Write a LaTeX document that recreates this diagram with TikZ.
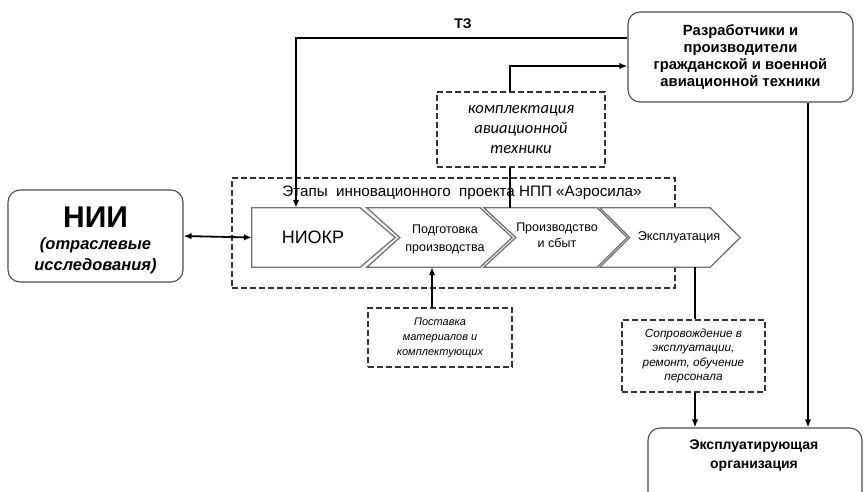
\documentclass[tikz,border=0pt]{standalone}
\usepackage{fontspec}
\setmainfont{Liberation Sans}
\newfontfamily\carlito{Carlito}
\usetikzlibrary{arrows.meta}

\begin{document}
\begin{tikzpicture}[x=1pt,y=-1pt,
  conn/.style={line width=1.8pt, black},
  arr/.style={conn, -{Latex[length=8pt,width=6.5pt]}},
  darr/.style={conn, {Latex[length=8pt,width=6.5pt]}-{Latex[length=8pt,width=6.5pt]}},
  rbox/.style={draw=black!70, line width=1.1pt, rounded corners=12pt, fill=white, inner sep=0pt},
  dbox/.style={draw=black!80, line width=1.1pt, dash pattern=on 6pt off 3pt, fill=white, inner sep=0pt},
  chevbody/.style={inner sep=0pt, minimum height=59pt},
  chev/.style={draw=black!55, line width=1.3pt, fill=white, line join=miter},
  lbl/.style={inner sep=0pt, align=center},
]
\clip (0,0) rectangle (864,491);

% project stages frame
\node[draw=black!80, line width=1.1pt, dash pattern=on 6pt off 3pt, inner sep=0pt,
      minimum width=443pt, minimum height=110pt] (frame) at (453.5,233) {};

% chevron bodies (anchors for the outlines and connectors)
\node[chevbody, minimum width=108pt] (ch1) at (306,237.5) {};
\node[chevbody, minimum width=113pt] (ch2) at (423.5,237.5) {};
\node[chevbody, minimum width=113pt] (ch3) at (540.5,237.5) {};
\node[chevbody, minimum width=110pt] (ch4) at (655,237.5) {};

\draw[chev] (ch1.north west) -- (ch1.north east) -- ([xshift=35pt]ch1.east)
  -- (ch1.south east) -- (ch1.south west) -- cycle;
\draw[chev] (ch2.north west) -- (ch2.north east) -- ([xshift=32pt]ch2.east)
  -- (ch2.south east) -- (ch2.south west) -- ([xshift=33pt]ch2.west) -- cycle;
\draw[chev] (ch3.north west) -- (ch3.north east) -- ([xshift=30pt]ch3.east)
  -- (ch3.south east) -- (ch3.south west) -- ([xshift=32pt]ch3.west) -- cycle;
\draw[chev] (ch4.north west) -- (ch4.north east) -- ([xshift=30pt]ch4.east)
  -- (ch4.south east) -- (ch4.south west) -- ([xshift=30pt]ch4.west) -- cycle;

\node[lbl, font=\fontsize{18}{20}\selectfont] (t1) at (313,237) {НИОКР};
\node[lbl, font=\fontsize{12.5}{18}\selectfont] (t2) at (445,239) {Подготовка\\производства};
\node[lbl, font=\fontsize{12.5}{16}\selectfont] (t3) at (557,235) {Производство\\и сбыт};
\node[lbl, font=\fontsize{12.7}{14}\selectfont] (t4) at (679,237) {Эксплуатация};

\node[lbl, font=\fontsize{15.2}{17}\selectfont] (title) at (462,193)
  {Этапы\ \ инновационного\ \ проекта НПП «Аэросила»};

% research institutes
\node[rbox, minimum width=175pt, minimum height=92pt] (nii) at (95.5,236) {};
\node[lbl, font=\bfseries\fontsize{30}{32}\selectfont] (niit) at (95.5,217) {НИИ};
\node[lbl, font=\bfseries\itshape\fontsize{16.5}{21}\selectfont] (niis) at (95.5,256)
  {(отраслевые\\исследования)};

% developers and manufacturers
\node[rbox, minimum width=225pt, minimum height=90pt, lbl,
      font=\bfseries\fontsize{14.8}{17}\selectfont] (razr) at (740.5,57)
  {Разработчики и\\производители\\гражданской и военной\\авиационной техники};

% operating organisation
\node[rbox, minimum width=214pt, minimum height=92pt] (org) at (755,474) {};
\node[lbl, font=\bfseries\fontsize{14}{19}\selectfont] (orgt) at (754,456)
  {Эксплуатирующая\\организация};

% dashed boxes
\node[dbox, minimum width=168pt, minimum height=75pt, align=center,
      font=\carlito\itshape\fontsize{16.5}{20}\selectfont] (komp) at (521,129.5)
  {комплектация\\авиационной\\техники};
\node[dbox, minimum width=144pt, minimum height=59pt, align=center,
      font=\itshape\fontsize{11}{15}\selectfont] (post) at (440,337.5)
  {Поставка\\материалов и\\комплектующих};
\node[dbox, minimum width=143pt, minimum height=72pt, align=center,
      font=\itshape\fontsize{11.8}{14.5}\selectfont] (sopr) at (693.5,356)
  {Сопровождение в\\эксплуатации,\\ремонт, обучение\\персонала};

% connectors
\coordinate (tz) at (296,38);
\coordinate (kup) at (510,66);
\coordinate (px) at (432,0);
\coordinate (sx) at (695,0);
\coordinate (rx) at (808,0);

\draw[darr] (nii.east) -- (ch1.west);
\draw[arr] (razr.west |- tz) -- (tz) -- (tz |- ch1.north);
\node[lbl, font=\bfseries\fontsize{14}{16}\selectfont] (tzl) at (463,24) {ТЗ};
\draw[conn] (kup |- ch3.north) -- (kup |- komp.south);
\draw[arr] (kup |- komp.north) -- (kup) -- (razr.west |- kup);
\draw[arr] (px |- post.north) -- (px |- ch2.south);
\draw[conn] (sx |- ch4.south) -- (sx |- sopr.north);
\draw[arr] (sx |- sopr.south) -- (sx |- org.north);
\draw[arr] (rx |- razr.south) -- (rx |- org.north);
\end{tikzpicture}
\end{document}
